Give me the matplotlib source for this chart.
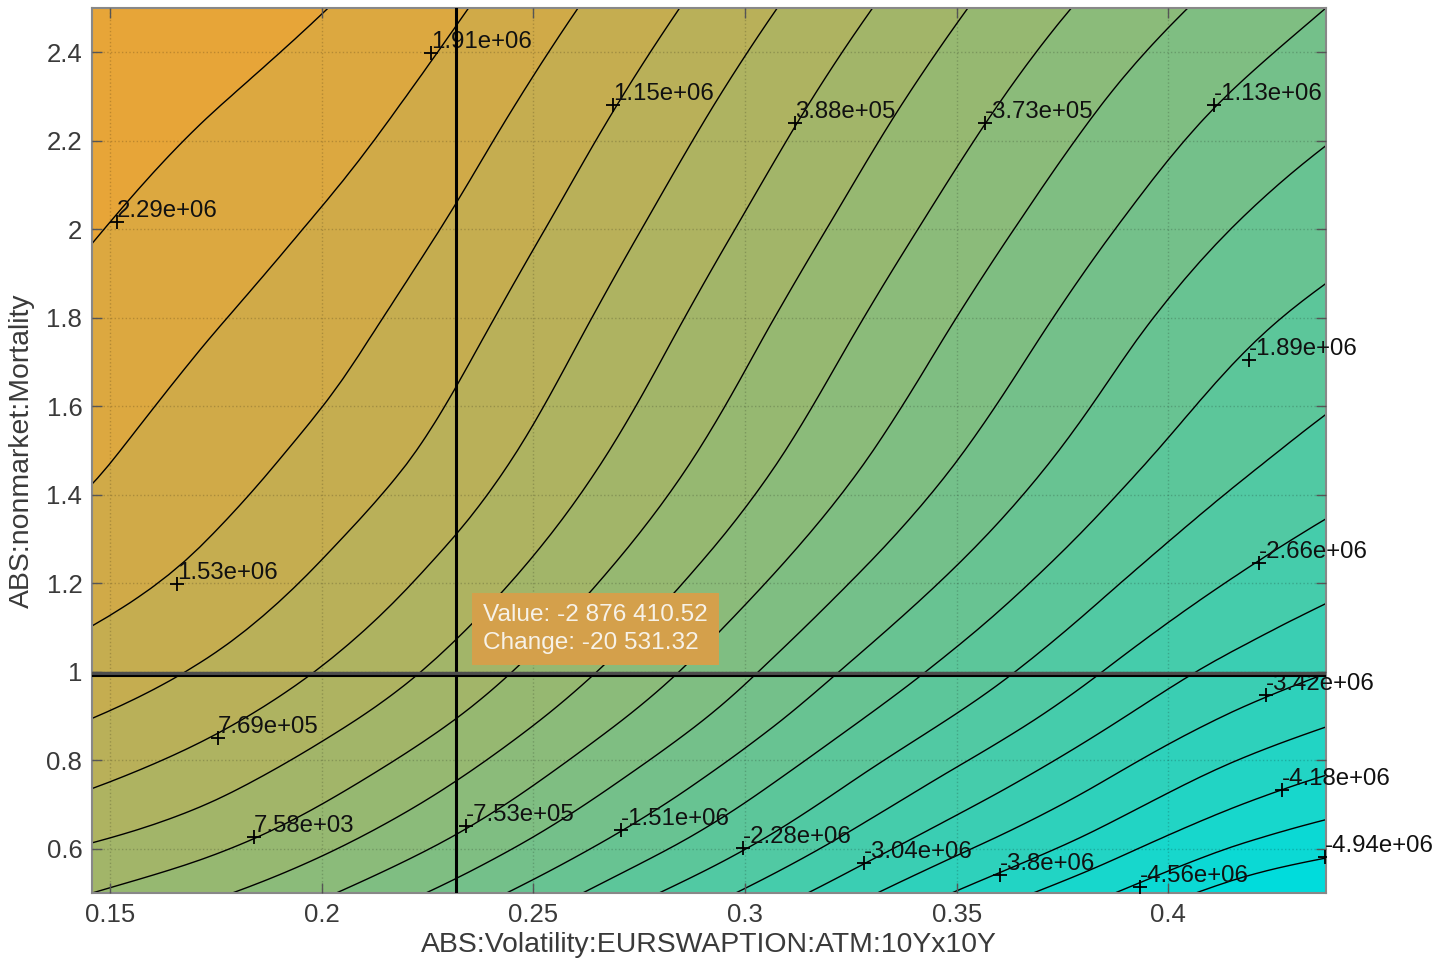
import numpy as np
import matplotlib
matplotlib.use("Agg")
import matplotlib.pyplot as plt
import matplotlib.tri as mtri
from matplotlib.colors import LinearSegmentedColormap

plt.rcParams['font.family'] = ['Liberation Sans', 'DejaVu Sans']

# --- grid of the surface ---
volX = [0.14575, 0.175, 0.205, 0.235, 0.265, 0.295, 0.325, 0.355, 0.385, 0.415, 0.43725]
mortY = [0.5, 0.625, 0.75, 0.875, 1.0, 1.25, 1.5, 1.75, 2.0, 2.25, 2.5]

# value in millions, one row per mortY, one column per volX
valueRows = [
    [0.008, -0.320, -0.780, -1.336, -1.967, -2.595, -3.272, -3.923, -4.509, -5.087, -5.320],
    [0.426, 0.133, -0.308, -0.841, -1.450, -2.066, -2.717, -3.337, -3.912, -4.460, -4.730],
    [0.807, 0.495, 0.068, -0.442, -1.035, -1.644, -2.276, -2.865, -3.432, -3.957, -4.235],
    [1.107, 0.807, 0.396, -0.099, -0.677, -1.275, -1.891, -2.458, -3.018, -3.524, -3.798],
    [1.358, 1.069, 0.673, 0.190, -0.373, -0.967, -1.568, -2.116, -2.667, -3.155, -3.406],
    [1.727, 1.453, 1.077, 0.628, 0.095, -0.472, -1.047, -1.583, -2.112, -2.576, -2.839],
    [1.975, 1.697, 1.381, 0.955, 0.441, -0.103, -0.658, -1.187, -1.697, -2.142, -2.394],
    [2.142, 1.895, 1.602, 1.195, 0.700, 0.171, -0.373, -0.894, -1.393, -1.827, -2.055],
    [2.313, 2.085, 1.815, 1.427, 0.947, 0.434, -0.095, -0.613, -1.096, -1.518, -1.743],
    [2.481, 2.275, 2.032, 1.659, 1.195, 0.696, 0.179, -0.331, -0.803, -1.214, -1.442],
    [2.671, 2.481, 2.260, 1.906, 1.461, 0.978, 0.476, -0.031, -0.487, -0.883, -1.134],
]

# contour levels in millions (top to bottom)
contourLevels = [2.29046, 1.90998, 1.52950, 1.14902, 0.76854, 0.38806, 0.00758,
                 -0.37290, -0.75338, -1.13386, -1.51434, -1.89482, -2.27530, -2.65578,
                 -3.03626, -3.41674, -3.79722, -4.17770, -4.55818, -4.93866]

# where each level got its label
labelX = [0.1517, 0.2258, 0.1658, 0.2688, 0.1755, 0.3118, 0.1840, 0.3567, 0.2341, 0.4108,
          0.2707, 0.4191, 0.2995, 0.4214, 0.3281, 0.4231, 0.3603, 0.4269, 0.3933, 0.4370]
labelY = [2.016, 2.398, 1.198, 2.281, 0.850, 2.240, 0.627, 2.240, 0.651, 2.281,
          0.642, 1.705, 0.602, 1.246, 0.568, 0.947, 0.541, 0.733, 0.514, 0.581]

crossX = 0.2317
crossY = 1.0
tipText = "Value: -2 876 410.52\nChange: -20 531.32"

xTicks = [0.15, 0.2, 0.25, 0.3, 0.35, 0.4]
yTicks = [0.6, 0.8, 1.0, 1.2, 1.4, 1.6, 1.8, 2.0, 2.2, 2.4]

xMin, xMax = 0.14575, 0.43725
yMin, yMax = 0.5, 2.5

# --- surface, smoothed by matplotlib's triangulation refiner ---
# (done on a unit square so the cubic fit is not skewed by the axis scales)
Z = np.array(valueRows) * 1e6
gx, gy = np.meshgrid(volX, mortY)
ux = (gx.ravel() - xMin) / (xMax - xMin)
uy = (gy.ravel() - yMin) / (yMax - yMin) * (885 / 1234)
nx, ny = len(volX), len(mortY)
tris = []
for j in range(ny - 1):
    for i in range(nx - 1):
        a = j * nx + i
        tris.append([a, a + 1, a + nx + 1])
        tris.append([a, a + nx + 1, a + nx])
tri = mtri.Triangulation(ux, uy, tris)
interp = mtri.CubicTriInterpolator(tri, Z.ravel(), kind='min_E')
triU, zFine = mtri.UniformTriRefiner(tri).refine_field(Z.ravel(), triinterpolator=interp, subdiv=3)
triFine = mtri.Triangulation(xMin + triU.x * (xMax - xMin),
                             yMin + triU.y / (885 / 1234) * (yMax - yMin), triU.triangles)

lineLevels = sorted(v * 1e6 for v in contourLevels)
fillLevels = [-1e8] + lineLevels + [1e8]

cmap = LinearSegmentedColormap.from_list("vol", ["#00DCDC", "#E7A538"])
bandColors = [cmap(i / 20) for i in range(21)]

fig = plt.figure(figsize=(14.45, 9.68), dpi=100)
ax = fig.add_axes([92 / 1445, 1 - 893 / 968, 1234 / 1445, 885 / 968])

ax.tricontourf(triFine, zFine, levels=fillLevels, colors=bandColors)
ax.tricontour(triFine, zFine, levels=lineLevels, colors='k', linewidths=1.0, linestyles='solid')

for lx, ly, lv in zip(labelX, labelY, contourLevels):
    ax.plot(lx, ly, '+', color='k', ms=10, mew=1.3, zorder=3)
    ax.text(lx, ly, '%.3g' % (lv * 1e6), ha='left', va='bottom', fontsize=17.3,
            color='#111111', zorder=3)

# crosshair
ax.axvline(crossX, color='k', lw=2.2, zorder=4)
ax.axhline(crossY - 0.002, color='#4d4d4d', lw=2.5, zorder=4)
ax.axhline(crossY - 0.009, color='k', lw=1.5, zorder=4)

ax.text(0.2382, 1.0966, tipText, ha='left', va='center', fontsize=17.6, color='#F7F2E8',
        linespacing=1.3, zorder=5,
        bbox=dict(boxstyle='square,pad=0.45', facecolor='#D4A04B', edgecolor='none'))

ax.set_xlim(xMin, xMax)
ax.set_ylim(yMin, yMax)
ax.set_xticks(xTicks)
ax.set_xticklabels(['%g' % t for t in xTicks])
ax.set_yticks(yTicks)
ax.set_yticklabels(['%g' % t for t in yTicks])

ax.grid(True, linestyle=':', color='k', alpha=0.18, lw=1)
ax.set_axisbelow(False)
ax.tick_params(direction='in', top=True, right=True, length=7, width=1,
               color='#555555', labelcolor='#3a3a3a', labelsize=18.5, pad=7)
for sp in ax.spines.values():
    sp.set_color('#888888')
    sp.set_linewidth(1.5)

ax.set_xlabel('ABS:Volatility:EURSWAPTION:ATM:10Yx10Y', fontsize=20.4, color='#3a3a3a', labelpad=4)
ax.set_ylabel('ABS:nonmarket:Mortality', fontsize=20.4, color='#3a3a3a', labelpad=8)

fig.savefig('out.png', dpi=100)
